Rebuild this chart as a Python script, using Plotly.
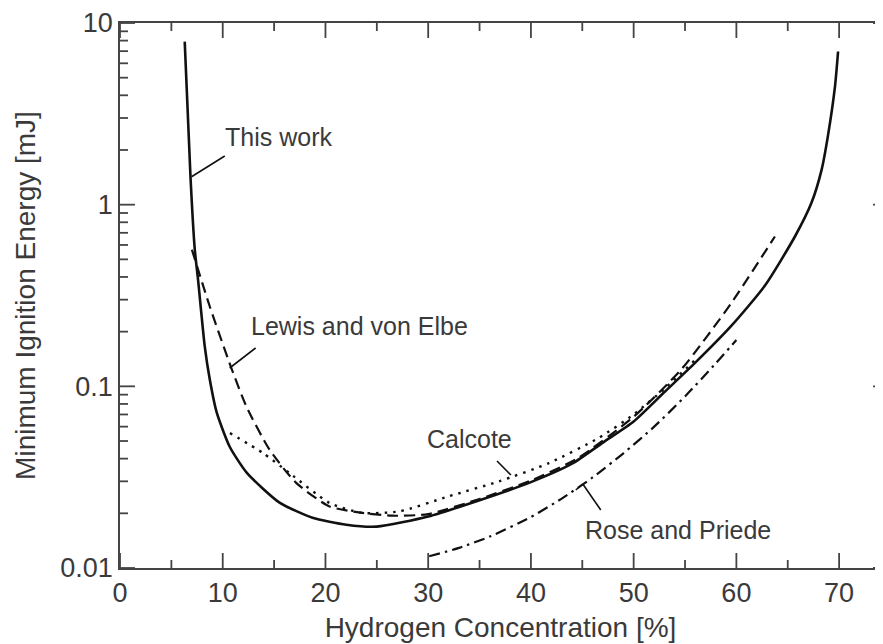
import plotly.graph_objects as go

# ---- data ----
this_work_x = [6.3, 6.86, 7.28, 7.6, 8.25, 8.74, 9.42, 10.68, 12.33, 15.53, 18.74, 22.04, 25.0,
               30.0, 35.0, 40.0, 44.0, 47.0, 50.0, 53.0, 56.0, 59.5, 62.8, 65.7, 67.3, 68.3, 68.9, 69.6, 69.9]
this_work_y = [7.9, 1.43, 0.565, 0.386, 0.166, 0.109, 0.0716, 0.0465, 0.0335, 0.0229, 0.0189, 0.0173, 0.0169,
               0.0192, 0.0236, 0.0297, 0.0375, 0.049, 0.064, 0.093, 0.135, 0.215, 0.36, 0.668, 1.02, 1.56, 2.37, 4.48, 6.97]

lewis_x = [7.0, 8.74, 10.84, 12.3, 14.56, 17.15, 20.4, 23.6, 26.5, 30.0, 35.0, 40.0, 44.5, 50.0, 54.7, 59.5, 63.75]
lewis_y = [0.565, 0.275, 0.126, 0.0775, 0.0448, 0.0294, 0.0218, 0.0201, 0.0194, 0.0198, 0.0240, 0.0303, 0.040,
           0.068, 0.125, 0.287, 0.668]

calcote_x = [10.7, 13.9, 16.5, 20.4, 23.6, 27.2, 32.0, 36.9, 41.75, 46.6, 50.0, 53.0, 56.0]
calcote_y = [0.0553, 0.043, 0.0333, 0.0228, 0.0201, 0.0205, 0.0248, 0.030, 0.0378, 0.052, 0.070, 0.097, 0.14]

rose_x = [30.1, 33.0, 36.0, 40.0, 43.0, 46.0, 49.0, 52.0, 55.0, 58.0, 60.0]
rose_y = [0.0116, 0.0129, 0.0149, 0.0191, 0.0241, 0.0315, 0.0428, 0.060, 0.088, 0.134, 0.18]

x_major = [0, 10, 20, 30, 40, 50, 60, 70]
x_minor = [5, 15, 25, 35, 45, 55, 65]
y_major = [0.01, 0.1, 1, 10]
y_major_text = ["0.01", "0.1", "1", "10"]
y_minor = [m * 10.0 ** e for e in (-2, -1, 0) for m in range(2, 10)]
Y_LOG_RANGE = [-2, 1]

# ---- layout geometry (pixels); the page body adds an 8px offset ----
OFF = 8
W, H = 883 - OFF, 644 - OFF
L, T, B, R = 120 - OFF, 23 - OFF, 76, 0
PW, PH = W - L - R, H - T - B
PX_PER_X = 10.3                      # px per % in the reference
X_MAX = PW / PX_PER_X
PX_PER_DEC = PH / (Y_LOG_RANGE[1] - Y_LOG_RANGE[0])
Y_MIN, Y_MAX = 10.0 ** Y_LOG_RANGE[0], 10.0 ** Y_LOG_RANGE[1]


def px(xp):
    return (xp - OFF - L) / PW


def py(yp):
    return (H - B - (yp - OFF)) / PH


INK = "#111111"
TXT = "#3a3a3a"
AX = "#444444"
FONT = "Liberation Sans, Arial, Helvetica, sans-serif"

fig = go.Figure()
fig.add_trace(go.Scatter(x=this_work_x, y=this_work_y, mode="lines", name="This work",
                         line=dict(color=INK, width=2.6, shape="spline", smoothing=0.6)))
fig.add_trace(go.Scatter(x=lewis_x, y=lewis_y, mode="lines", name="Lewis and von Elbe",
                         line=dict(color=INK, width=2.2, dash="11px,6px", shape="spline", smoothing=0.6)))
fig.add_trace(go.Scatter(x=calcote_x, y=calcote_y, mode="lines", name="Calcote",
                         line=dict(color=INK, width=2.4, dash="2.5px,6px", shape="spline", smoothing=0.6)))
fig.add_trace(go.Scatter(x=rose_x, y=rose_y, mode="lines", name="Rose and Priede",
                         line=dict(color=INK, width=2.2, dash="11px,5px,2.5px,5px", shape="spline", smoothing=0.6)))

# inward tick marks, drawn through the axes' own scales
MAJ, MIN_, RIGHT = 15, 8, 8
tx, ty = [], []
for vals, ln in ((x_major, MAJ), (x_minor, MIN_)):
    f = 10.0 ** (ln / PX_PER_DEC)
    for v in vals:
        tx += [v, v, None, v, v, None]
        ty += [Y_MIN, Y_MIN * f, None, Y_MAX, Y_MAX / f, None]
for vals, ln in ((y_major, MAJ), (y_minor, MIN_)):
    for v in vals:
        tx += [0, ln / PX_PER_X, None]
        ty += [v, v, None]
for v in y_major:
    tx += [X_MAX, X_MAX - RIGHT / PX_PER_X, None]
    ty += [v, v, None]
fig.add_trace(go.Scatter(x=tx, y=ty, mode="lines", hoverinfo="skip", showlegend=False,
                         cliponaxis=False, line=dict(color=AX, width=1.8)))

# labels with leader lines (reference pixel positions)
labels = [
    ("This work", 279, 137, [(225, 156), (191.7, 176.7)]),
    ("Lewis and von Elbe", 360, 326, [(256, 348), (230, 368)]),
    ("Calcote", 470, 439, [(498, 461), (512, 475)]),
    ("Rose and Priede", 679, 530, [(602, 510), (584, 484), (577, 490)]),
]
for text, lx, ly, pts in labels:
    fig.add_annotation(text=text, x=px(lx), y=py(ly), xref="paper", yref="paper",
                       showarrow=False, xanchor="center", yanchor="middle",
                       font=dict(family=FONT, size=25, color=TXT))
    for (x0, y0), (x1, y1) in zip(pts[:-1], pts[1:]):
        fig.add_shape(type="line", xref="paper", yref="paper",
                      x0=px(x0), y0=py(y0), x1=px(x1), y1=py(y1),
                      line=dict(color=INK, width=1.6))

fig.update_layout(
    width=W, height=H,
    margin=dict(l=L, r=R, t=T, b=B, pad=0),
    paper_bgcolor="white", plot_bgcolor="white",
    showlegend=False,
    font=dict(family=FONT, color=TXT, size=27),
    xaxis=dict(
        range=[0, X_MAX], tickmode="array", tickvals=x_major,
        ticks="", showline=True, linecolor=AX, linewidth=1.5, mirror=True,
        showgrid=False, zeroline=False,
        tickfont=dict(size=27, color=TXT),
        title=dict(text="Hydrogen Concentration [%]", font=dict(size=28, color=TXT), standoff=10),
    ),
    yaxis=dict(
        type="log", range=Y_LOG_RANGE, tickmode="array", tickvals=y_major, ticktext=y_major_text,
        ticks="", showline=True, linecolor=AX, linewidth=1.5, mirror=True,
        showgrid=False, zeroline=False,
        tickfont=dict(size=27, color=TXT),
        title=dict(text="Minimum Ignition Energy [mJ]", font=dict(size=28, color=TXT), standoff=16),
    ),
)

fig.write_html("out.html")
